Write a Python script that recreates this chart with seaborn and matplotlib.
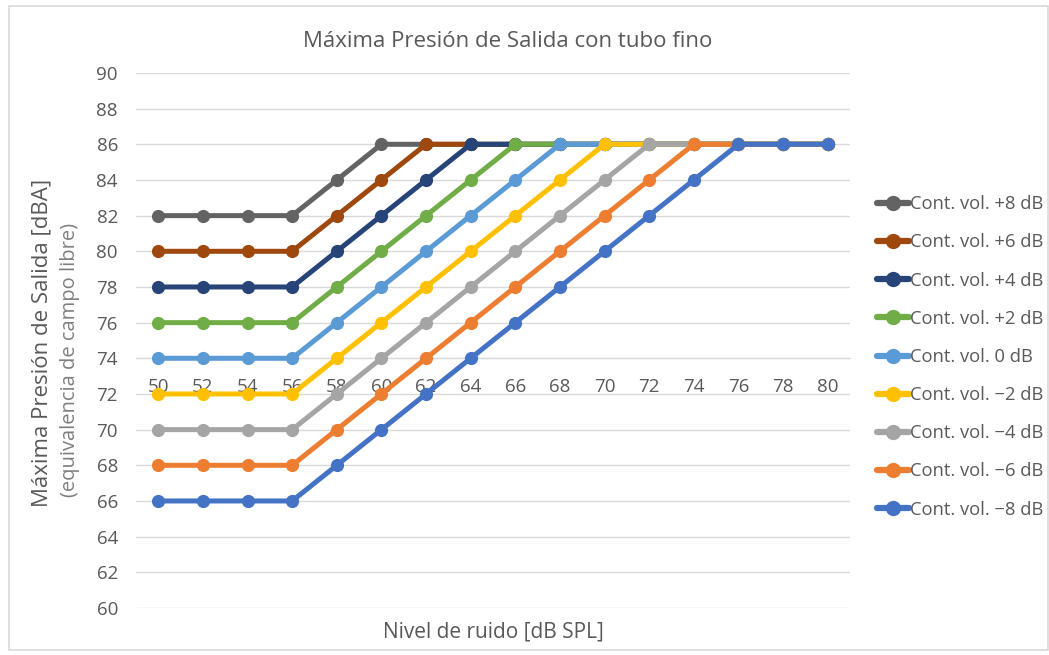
import pandas as pd
import matplotlib
matplotlib.use("Agg")
import matplotlib.pyplot as plt
import seaborn as sns
from matplotlib.patches import Rectangle

# Nivel de ruido [dB SPL]
noise_levels = [50, 52, 54, 56, 58, 60, 62, 64, 66, 68, 70, 72, 74, 76, 78, 80]

vol_p8 = [82, 82, 82, 82, 84, 86, 86, 86, 86, 86, 86, 86, 86, 86, 86, 86]
vol_p6 = [80, 80, 80, 80, 82, 84, 86, 86, 86, 86, 86, 86, 86, 86, 86, 86]
vol_p4 = [78, 78, 78, 78, 80, 82, 84, 86, 86, 86, 86, 86, 86, 86, 86, 86]
vol_p2 = [76, 76, 76, 76, 78, 80, 82, 84, 86, 86, 86, 86, 86, 86, 86, 86]
vol_0 = [74, 74, 74, 74, 76, 78, 80, 82, 84, 86, 86, 86, 86, 86, 86, 86]
vol_m2 = [72, 72, 72, 72, 74, 76, 78, 80, 82, 84, 86, 86, 86, 86, 86, 86]
vol_m4 = [70, 70, 70, 70, 72, 74, 76, 78, 80, 82, 84, 86, 86, 86, 86, 86]
vol_m6 = [68, 68, 68, 68, 70, 72, 74, 76, 78, 80, 82, 84, 86, 86, 86, 86]
vol_m8 = [66, 66, 66, 66, 68, 70, 72, 74, 76, 78, 80, 82, 84, 86, 86, 86]

series_names = ["Cont. vol. +8 dB", "Cont. vol. +6 dB", "Cont. vol. +4 dB",
                "Cont. vol. +2 dB", "Cont. vol. 0 dB", "Cont. vol. \u22122 dB",
                "Cont. vol. \u22124 dB", "Cont. vol. \u22126 dB", "Cont. vol. \u22128 dB"]
series_values = [vol_p8, vol_p6, vol_p4, vol_p2, vol_0, vol_m2, vol_m4, vol_m6, vol_m8]
colors = ["#636363", "#9E480E", "#264478", "#70AD47", "#5B9BD5",
          "#FFC000", "#A5A5A5", "#ED7D31", "#4472C4"]

y_ticks = list(range(60, 91, 2))

rows = []
for name, vals in zip(series_names, series_values):
    for x, v in zip(noise_levels, vals):
        rows.append({"noise": x, "value": v, "serie": name})
df = pd.DataFrame(rows)

sns.set_style("white")
plt.rcParams['font.family'] = ['Open Sans', 'DejaVu Sans']
text_color = "#595959"

fig = plt.figure(figsize=(10.49, 6.55), dpi=100)
ax = fig.add_axes([0.1296, 0.0718, 0.6807, 0.8168])

sns.lineplot(data=df, x="noise", y="value", hue="serie", hue_order=series_names,
             palette=colors, marker="o", markersize=9.5, markeredgewidth=0,
             linewidth=3.6, ax=ax, legend=True)

ax.set_xlim(49, 81)
ax.set_ylim(60, 90)
ax.set_yticks(y_ticks)
ax.grid(axis="y", color="#D9D9D9", linewidth=1)
ax.set_axisbelow(True)
for s in ["top", "right", "left"]:
    ax.spines[s].set_visible(False)
ax.spines["bottom"].set_position(("data", 74))
ax.spines["bottom"].set_color("#D9D9D9")
ax.spines["bottom"].set_zorder(0.5)

ax.set_xticks(noise_levels)
ax.set_xticks([n - 1 for n in noise_levels] + [81], minor=True)
ax.tick_params(axis="x", which="major", length=0, pad=14, labelsize=13.5, labelcolor=text_color)
ax.tick_params(axis="x", which="minor", length=5, width=1, color="#D9D9D9", direction="out")
ax.tick_params(axis="y", length=0, pad=13, labelsize=13.5, labelcolor=text_color)
ax.set_xlabel("")
ax.set_ylabel("")

fig.text(0.484, 0.936, "Máxima Presión de Salida con tubo fino", ha="center", va="center",
         fontsize=16, color=text_color)
fig.text(0.470, 0.035, "Nivel de ruido [dB SPL]", ha="center", va="center",
         fontsize=15, color=text_color)
fig.text(0.040, 0.226, "Máxima Presión de Salida [dBA]", rotation=90, ha="center", va="bottom",
         fontsize=16, color=text_color)
fig.text(0.067, 0.241, "(equivalencia de campo libre)", rotation=90, ha="center", va="bottom",
         fontsize=14.5, color="#7F7F7F")

handles, labels = ax.get_legend_handles_labels()
for h in handles:
    h.set_linewidth(4.5)
    h.set_markersize(11)
leg = ax.legend(handles, labels, loc="upper left", bbox_to_anchor=(0.829, 0.713),
                bbox_transform=fig.transFigure, frameon=False, fontsize=13.2,
                labelcolor=text_color, handlelength=1.75, handletextpad=0.05,
                labelspacing=1.1, borderaxespad=0)

fig.patches.append(Rectangle((0.009, 0.008), 0.99, 0.983, transform=fig.transFigure,
                             fill=False, edgecolor="#D9D9D9", linewidth=1.2))

fig.savefig("out.png", dpi=100, facecolor="white")
